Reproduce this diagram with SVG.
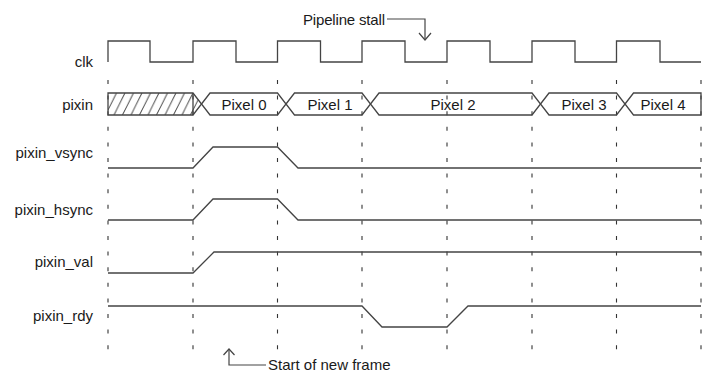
<svg xmlns="http://www.w3.org/2000/svg" width="711" height="374" viewBox="0 0 711 374">
<style>
  text { font-family: "Liberation Sans", Arial, sans-serif; font-size: 15px; fill: #1a1a1a; }
  .lbl { text-anchor: end; }
  .mid { text-anchor: middle; }
  .wave { fill: none; stroke: #444; stroke-width: 1.3; }
  .bus { fill: none; stroke: #444; stroke-width: 1.3; stroke-linejoin: miter; }
  .hatched { fill: url(#hatch); stroke: #444; stroke-width: 1.3; }
  .grid { stroke: #333; stroke-width: 1.1; stroke-dasharray: 4 11.6; }
  .conn { fill: none; stroke: #444; stroke-width: 1.2; }
</style>
<defs>
  <pattern id="hatch" patternUnits="userSpaceOnUse" width="8.5" height="22" x="108" y="93">
    <line x1="-11" y1="22" x2="0" y2="0" stroke="#444" stroke-width="1"/>
    <line x1="-2.5" y1="22" x2="8.5" y2="0" stroke="#444" stroke-width="1"/>
    <line x1="6" y1="22" x2="17" y2="0" stroke="#444" stroke-width="1"/>
  </pattern>
</defs>
<rect width="711" height="374" fill="#fff"/>

<g id="grid">
  <line class="grid" x1="108" y1="80" x2="108" y2="353"/>
  <line class="grid" x1="193" y1="80" x2="193" y2="353"/>
  <line class="grid" x1="277.5" y1="80" x2="277.5" y2="353"/>
  <line class="grid" x1="362" y1="80" x2="362" y2="353"/>
  <line class="grid" x1="447" y1="80" x2="447" y2="353"/>
  <line class="grid" x1="532" y1="80" x2="532" y2="353"/>
  <line class="grid" x1="616.5" y1="80" x2="616.5" y2="353"/>
  <line class="grid" x1="701" y1="80" x2="701" y2="353"/>
</g>

<g id="clk">
  <text class="lbl" x="93" y="66.5">clk</text>
  <path class="wave" d="M108,62 V41 H150 V62 H193 V41 H236 V62 H277.5 V41 H320.5 V62 H362 V41 H405 V62 H447 V41 H490 V62 H532 V41 H575 V62 H616.5 V41 H660 V62 H701"/>
</g>

<g id="pixin">
  <text class="lbl" x="93" y="109.5">pixin</text>
  <polygon class="hatched" points="108,93 193,93 201.5,104 193,115 108,115"/>
  <line class="bus" x1="193" y1="93" x2="193" y2="115"/>
  <polygon class="bus" points="201.5,104 210,93 277.5,93 286,104 277.5,115 210,115"/>
  <polygon class="bus" points="286,104 294.5,93 362,93 370.5,104 362,115 294.5,115"/>
  <polygon class="bus" points="370.5,104 379,93 532,93 540.5,104 532,115 379,115"/>
  <polygon class="bus" points="540.5,104 549,93 616.5,93 625,104 616.5,115 549,115"/>
  <polygon class="bus" points="625,104 633.5,93 701,93 701,115 633.5,115"/>
  <text class="mid" x="244" y="109.5">Pixel 0</text>
  <text class="mid" x="330" y="109.5">Pixel 1</text>
  <text class="mid" x="453" y="109.5">Pixel 2</text>
  <text class="mid" x="584" y="109.5">Pixel 3</text>
  <text class="mid" x="663" y="109.5">Pixel 4</text>
</g>

<g id="pixin_vsync">
  <text class="lbl" x="93" y="158">pixin_vsync</text>
  <path class="wave" d="M108,168 H193 L213,147 H277.5 L298,168 H701"/>
</g>

<g id="pixin_hsync">
  <text class="lbl" x="93" y="215">pixin_hsync</text>
  <path class="wave" d="M108,220 H193 L213,199 H277.5 L298,220 H701"/>
</g>

<g id="pixin_val">
  <text class="lbl" x="93" y="267">pixin_val</text>
  <path class="wave" d="M108,273 H193 L214,252 H701"/>
</g>

<g id="pixin_rdy">
  <text class="lbl" x="93" y="321">pixin_rdy</text>
  <path class="wave" d="M108,306 H362 L382,327 H447 L468,306 H701"/>
</g>

<g id="note_stall">
  <text class="lbl" x="385" y="25" textLength="82" lengthAdjust="spacing">Pipeline stall</text>
</g>
<g id="note_frame">
  <text x="268" y="370">Start of new frame</text>
</g>

<g id="connectors">
  <path class="conn" d="M387,19 H425 V40"/>
  <path class="conn" d="M419,33 L425,40 L431,33"/>
  <path class="conn" d="M229,349 V365 H266"/>
  <path class="conn" d="M223.5,355 L229,349 L234.5,355"/>
</g>
</svg>
